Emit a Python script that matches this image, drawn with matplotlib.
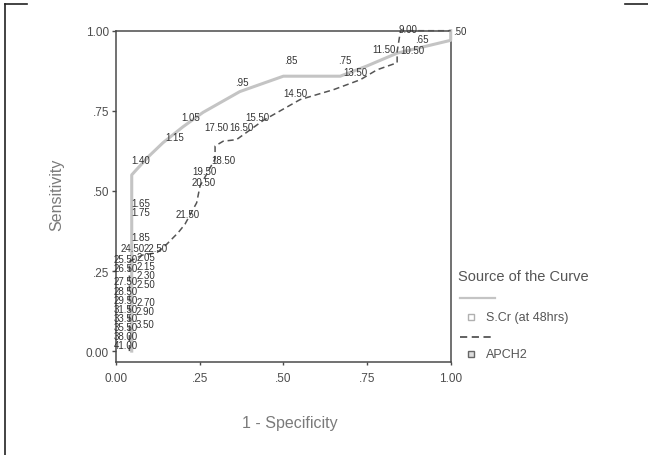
import matplotlib
matplotlib.use("Agg")
import matplotlib.pyplot as plt
from matplotlib.lines import Line2D

plt.rcParams['font.family'] = ['Liberation Sans', 'DejaVu Sans']

# ---------------- data ----------------
scr_fpr = [0.047, 0.047, 0.047, 0.060, 0.100, 0.140, 0.200, 0.260, 0.370, 0.500, 0.670, 0.750, 0.840, 1.000, 1.000]
scr_sens = [0.000, 0.450, 0.550, 0.565, 0.610, 0.650, 0.700, 0.745, 0.810, 0.858, 0.858, 0.890, 0.930, 0.970, 1.000]

apc_fpr = [0.040, 0.040, 0.080, 0.122, 0.151, 0.186, 0.206, 0.241, 0.251, 0.296, 0.296, 0.320, 0.360,
           0.440, 0.550, 0.650, 0.730, 0.780, 0.840, 0.840, 0.850, 1.000]
apc_sens = [0.000, 0.280, 0.300, 0.307, 0.333, 0.370, 0.396, 0.463, 0.515, 0.600, 0.640, 0.655, 0.660,
            0.720, 0.785, 0.816, 0.847, 0.878, 0.900, 0.935, 1.000, 1.000]

scr_cutoffs = [".50", ".65", ".75", ".85", ".95", "1.05", "1.15", "1.40", "1.65", "1.75", "1.85",
               "2.05", "2.15", "2.30", "2.50", "2.70", "2.90", "3.50"]
apc_cutoffs = ["9.00", "11.50", "10.50", "13.50", "14.50", "15.50", "17.50", "16.50", "18.50", "19.50",
               "20.50", "21.50", "22.50", "24.50", "25.50", "26.50", "27.50", "28.50", "29.50", "31.50",
               "33.50", "35.50", "38.00", "41.00"]

x_ticks = [0.0, 0.25, 0.5, 0.75, 1.0]
x_ticklabels = ["0.00", ".25", ".50", ".75", "1.00"]
y_ticks = [0.0, 0.25, 0.5, 0.75, 1.0]
y_ticklabels = ["0.00", ".25", ".50", ".75", "1.00"]

# label placement (layout, data coords)
scr_label_pos = [(1.028, 1.0), (0.915, 0.975), (0.684, 0.91), (0.523, 0.91), (0.376, 0.841),
                 (0.224, 0.732), (0.176, 0.667), (0.075, 0.598), (0.075, 0.461), (0.075, 0.433),
                 (0.075, 0.355), (0.088, 0.294), (0.088, 0.266), (0.088, 0.238), (0.088, 0.210),
                 (0.088, 0.153), (0.088, 0.125), (0.088, 0.084)]
apc_label_pos = [(0.872, 1.006), (0.80, 0.944), (0.885, 0.941), (0.714, 0.872), (0.535, 0.807),
                 (0.421, 0.732), (0.300, 0.698), (0.374, 0.701), (0.32, 0.598), (0.263, 0.561),
                 (0.263, 0.528), (0.215, 0.427), (0.118, 0.321), (0.051, 0.321), (0.030, 0.288),
                 (0.030, 0.260), (0.030, 0.218), (0.030, 0.188), (0.030, 0.158), (0.030, 0.130),
                 (0.030, 0.103), (0.030, 0.075), (0.030, 0.047), (0.030, 0.019)]

W, H = 648, 456
fig = plt.figure(figsize=(W / 100, H / 100), dpi=100)
fig.patch.set_facecolor("white")

ax = fig.add_axes([116 / W, (H - 363) / H, (450.7 - 116) / W, (363 - 31.7) / H])
ax.set_xlim(0, 1)
ax.set_ylim(-0.034, 1.0)

frame_col = "#4a4a4a"
for s in ax.spines.values():
    s.set_color(frame_col)
    s.set_linewidth(1.1)

ax.plot(scr_fpr, scr_sens, color="#c4c4c4", lw=2.2, solid_joinstyle="round", zorder=3, clip_on=False)
ax.plot(apc_fpr, apc_sens, color="#555555", lw=1.1, dashes=(4, 2.5), zorder=4, clip_on=False)

for txt, (x, y) in zip(scr_cutoffs, scr_label_pos):
    ax.text(x, y, txt, fontsize=7, color="#333333", ha="center", va="center", zorder=5)
for txt, (x, y) in zip(apc_cutoffs, apc_label_pos):
    ax.text(x, y, txt, fontsize=7, color="#333333", ha="center", va="center", zorder=5)

ax.set_xticks(x_ticks)
ax.set_xticklabels(x_ticklabels)
ax.set_yticks(y_ticks)
ax.set_yticklabels(y_ticklabels)
ax.tick_params(axis="y", direction="out", length=3, width=1, color=frame_col,
               labelsize=8.5, labelcolor="#4d4d4d", pad=2)
ax.tick_params(axis="x", direction="out", length=2, width=1, color=frame_col,
               labelsize=8.5, labelcolor="#4d4d4d", pad=5)

fig.text(57 / W, 1 - 195 / H, "Sensitivity", rotation=90, fontsize=11.5, color="#7a7a7a",
         ha="center", va="center")
fig.text(290 / W, 1 - 424 / H, "1 - Specificity", fontsize=11.5, color="#7a7a7a",
         ha="center", va="center")

# legend (SPSS style)
def fx(px):
    return px / W

def fy(py):
    return 1 - py / H

fig.text(fx(458), fy(277), "Source of the Curve", fontsize=10.5, color="#555555", ha="left", va="center")
fig.add_artist(Line2D([fx(460), fx(495)], [fy(299), fy(299)], color="#c4c4c4", lw=1.6))
fig.add_artist(Line2D([fx(471)], [fy(318)], marker="s", ms=4, mfc="white", mec="#b0b0b0", mew=1, ls="none"))
fig.text(fx(486), fy(318), "S.Cr (at 48hrs)", fontsize=9, color="#555555", ha="left", va="center")
fig.add_artist(Line2D([fx(460), fx(495)], [fy(338), fy(338)], color="#555555", lw=1.3, dashes=(4, 2.5)))
fig.add_artist(Line2D([fx(471)], [fy(355)], marker="s", ms=4, mfc="#dddddd", mec="#666666", mew=1, ls="none"))
fig.text(fx(486), fy(355), "APCH2", fontsize=9, color="#555555", ha="left", va="center")

# scan border marks
fig.add_artist(Line2D([fx(5), fx(27)], [fy(5), fy(5)], color="#222222", lw=1.2))
fig.add_artist(Line2D([fx(5), fx(5)], [fy(5), fy(456)], color="#222222", lw=1.2))
fig.add_artist(Line2D([fx(625), fx(648)], [fy(5), fy(5)], color="#222222", lw=1.2))

fig.savefig("out.png", dpi=100, facecolor="white")
